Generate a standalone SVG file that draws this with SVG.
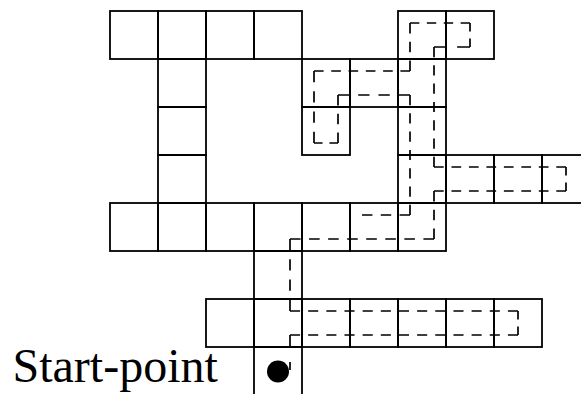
<svg xmlns="http://www.w3.org/2000/svg" width="581" height="394" viewBox="0 0 581 394">
<defs>
<style>
.cell{fill:none;stroke:#000;stroke-width:1.8}
.route line{stroke:#000;stroke-width:1.7;stroke-dasharray:10 8;fill:none}
.lbl{font-family:"Liberation Serif","Times New Roman",serif;font-size:48px;fill:#000}
</style>
<rect id="c" class="cell" width="48" height="48"/>
</defs>
<rect width="581" height="394" fill="#fff"/>
<g id="cells">
<g id="cell-0-0"><use href="#c" x="110" y="11"/></g>
<g id="cell-1-0"><use href="#c" x="158" y="11"/></g>
<g id="cell-2-0"><use href="#c" x="206" y="11"/></g>
<g id="cell-3-0"><use href="#c" x="254" y="11"/></g>
<g id="cell-6-0"><use href="#c" x="398" y="11"/></g>
<g id="cell-7-0"><use href="#c" x="446" y="11"/></g>
<g id="cell-1-1"><use href="#c" x="158" y="59"/></g>
<g id="cell-4-1"><use href="#c" x="302" y="59"/></g>
<g id="cell-5-1"><use href="#c" x="350" y="59"/></g>
<g id="cell-6-1"><use href="#c" x="398" y="59"/></g>
<g id="cell-1-2"><use href="#c" x="158" y="107"/></g>
<g id="cell-4-2"><use href="#c" x="302" y="107"/></g>
<g id="cell-6-2"><use href="#c" x="398" y="107"/></g>
<g id="cell-1-3"><use href="#c" x="158" y="155"/></g>
<g id="cell-6-3"><use href="#c" x="398" y="155"/></g>
<g id="cell-7-3"><use href="#c" x="446" y="155"/></g>
<g id="cell-8-3"><use href="#c" x="494" y="155"/></g>
<g id="cell-9-3"><rect class="cell" x="542" y="155" width="60" height="48"/></g>
<g id="cell-0-4"><use href="#c" x="110" y="203"/></g>
<g id="cell-1-4"><use href="#c" x="158" y="203"/></g>
<g id="cell-2-4"><use href="#c" x="206" y="203"/></g>
<g id="cell-3-4"><use href="#c" x="254" y="203"/></g>
<g id="cell-4-4"><use href="#c" x="302" y="203"/></g>
<g id="cell-5-4"><use href="#c" x="350" y="203"/></g>
<g id="cell-6-4"><use href="#c" x="398" y="203"/></g>
<g id="cell-3-5"><use href="#c" x="254" y="251"/></g>
<g id="cell-2-6"><use href="#c" x="206" y="299"/></g>
<g id="cell-3-6"><use href="#c" x="254" y="299"/></g>
<g id="cell-4-6"><use href="#c" x="302" y="299"/></g>
<g id="cell-5-6"><use href="#c" x="350" y="299"/></g>
<g id="cell-6-6"><use href="#c" x="398" y="299"/></g>
<g id="cell-7-6"><use href="#c" x="446" y="299"/></g>
<g id="cell-8-6"><use href="#c" x="494" y="299"/></g>
<g id="cell-3-7"><rect class="cell" x="254" y="347" width="48" height="70"/></g>
</g>
<g id="route" class="route">
<line x1="290" y1="370" x2="290" y2="335" style="stroke-dasharray:8 16 11"/>
<line x1="290" y1="335" x2="518" y2="335" pathLength="226"/>
<line x1="518" y1="335" x2="518" y2="311" pathLength="28"/>
<line x1="518" y1="311" x2="290" y2="311" pathLength="226"/>
<line x1="290" y1="311" x2="290" y2="239" pathLength="64"/>
<line x1="290" y1="239" x2="434" y2="239" pathLength="136"/>
<line x1="434" y1="239" x2="434" y2="191" pathLength="46"/>
<line x1="434" y1="191" x2="566" y2="191" pathLength="136"/>
<line x1="566" y1="191" x2="566" y2="167" pathLength="28"/>
<line x1="566" y1="167" x2="434" y2="167" pathLength="136"/>
<line x1="434" y1="167" x2="434" y2="47" pathLength="118"/>
<line x1="434" y1="47" x2="470" y2="47" pathLength="28"/>
<line x1="470" y1="47" x2="470" y2="23" pathLength="28"/>
<line x1="470" y1="23" x2="410" y2="23" pathLength="64"/>
<line x1="410" y1="23" x2="410" y2="71" pathLength="46"/>
<line x1="410" y1="71" x2="314" y2="71" pathLength="100"/>
<line x1="314" y1="71" x2="314" y2="143" pathLength="64"/>
<line x1="314" y1="143" x2="338" y2="143" pathLength="28"/>
<line x1="338" y1="143" x2="338" y2="95" pathLength="46"/>
<line x1="338" y1="95" x2="410" y2="95" pathLength="64"/>
<line x1="410" y1="95" x2="410" y2="215" pathLength="118"/>
<line x1="410" y1="215" x2="362" y2="215" pathLength="46"/>
</g>
<g id="start">
<circle cx="278" cy="371.5" r="11" fill="#000"/>
<text class="lbl" x="12.5" y="381.5">Start-point</text>
</g>
</svg>
